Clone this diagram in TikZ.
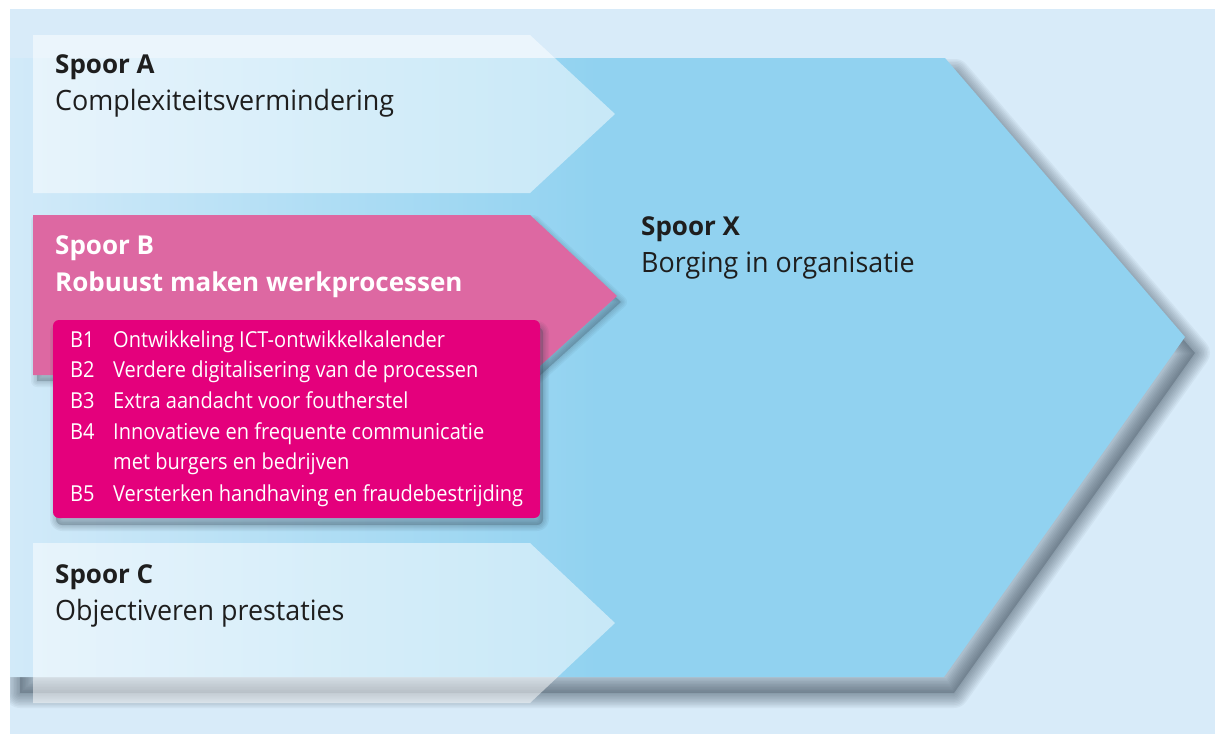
\documentclass[tikz,border=0pt]{standalone}
\usepackage{fontspec}
\setmainfont{Open Sans}
\newfontfamily\subfont[FakeStretch=0.96]{Open Sans}
\newfontfamily\itemfont[FakeStretch=0.91]{Open Sans}
\definecolor{bgblue}{HTML}{D8EBF9}
\definecolor{xblue}{HTML}{91D2F0}
\definecolor{xbluel}{HTML}{D2EAF9}
\definecolor{bpink}{HTML}{DD68A2}
\definecolor{romagenta}{HTML}{E4007C}
\definecolor{txtdark}{HTML}{1E1E1E}
\definecolor{shadowcol}{HTML}{2A3A48}
\def\bigarrowpath{(10,58) -- (945,58) -- (1185,337) -- (944,677) -- (10,677) -- cycle}
\def\spoorbpath{(33,215) -- (530,215) -- (617,296) -- (530,375) -- (33,375) -- cycle}
\def\boxpath{(53,320) rectangle (540,518)}
% #1 path, #2 xshift, #3 yshift, #4 widest stroke, #5 extra options, #6 layer opacity
\newcommand\softshadowof[6]{%
  \begin{scope}[xshift=#2, yshift=#3, #5]
    \fill[shadowcol, fill opacity=0.25] #1;
    \foreach \w in {3,6,...,#4} {
      \draw[shadowcol, draw opacity=#6, line width=\w pt, line join=round] #1;
    }
  \end{scope}}
\begin{document}
\begin{tikzpicture}[x=1pt,y=-1pt,
  titletext/.style={anchor=base west, inner sep=0pt, font=\fontsize{26}{30}\selectfont\bfseries, text=txtdark},
  subtext/.style={anchor=base west, inner sep=0pt, font=\subfont\fontsize{28}{32}\selectfont, text=txtdark},
  itemtext/.style={anchor=base west, inner sep=0pt, font=\itemfont\fontsize{22}{26}\selectfont, text=white},
  sporebox/.style={fill=white, fill opacity=0.5},
]
\useasboundingbox (0,0) rectangle (1215,734);
\fill[white] (0,0) rectangle (1215,734);
% background
\fill[bgblue] (10,9) rectangle (1215,734);
\begin{scope}
  \clip (10,9) rectangle (1215,734);
  % big arrow Spoor X: soft shadow
  \softshadowof{\bigarrowpath}{10pt}{-16pt}{30}{}{0.05}
  \path[left color=xbluel, right color=xblue, middle color=xblue] \bigarrowpath;
\end{scope}
% Spoor A
\path[sporebox] (33,35) -- (530,35) -- (615,114) -- (530,193) -- (33,193) -- cycle;
% Spoor C
\path[sporebox] (33,543) -- (530,543) -- (615,623) -- (530,703) -- (33,703) -- cycle;
% Spoor B
\softshadowof{\spoorbpath}{4pt}{-6pt}{12}{}{0.05}
\path[fill=bpink] \spoorbpath;
% magenta box
\softshadowof{\boxpath}{3pt}{-7pt}{12}{rounded corners=6pt}{0.06}
\path[fill=romagenta, rounded corners=6pt] \boxpath;
% texts
\node[titletext] (ta) at (55,73) {Spoor A};
\node[subtext] (sa) at (55,110) {Complexiteitsvermindering};
\node[titletext, text=white] (tb) at (55,254) {Spoor B};
\node[titletext, text=white] (sb) at (55,291) {Robuust maken werkprocessen};
\node[itemtext] (l1) at (70,347) {B1};
\node[itemtext] (i1) at (113,347) {Ontwikkeling ICT-ontwikkelkalender};
\node[itemtext] (l2) at (70,377) {B2};
\node[itemtext] (i2) at (113,377) {Verdere digitalisering van de processen};
\node[itemtext] (l3) at (70,408) {B3};
\node[itemtext] (i3) at (113,408) {Extra aandacht voor foutherstel};
\node[itemtext] (l4) at (70,439) {B4};
\node[itemtext] (i4) at (113,439) {Innovatieve en frequente communicatie};
\node[itemtext] (i4b) at (113,469) {met burgers en bedrijven};
\node[itemtext] (l5) at (70,501) {B5};
\node[itemtext] (i5) at (113,501) {Versterken handhaving en fraudebestrijding};
\node[titletext] (tc) at (55,583) {Spoor C};
\node[subtext] (sc) at (55,620) {Objectiveren prestaties};
\node[titletext] (tx) at (641,235) {Spoor X};
\node[subtext] (sx) at (641,272) {Borging in organisatie};
\end{tikzpicture}
\end{document}
